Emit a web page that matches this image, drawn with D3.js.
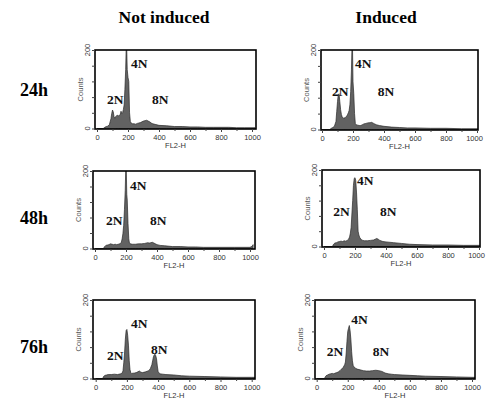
<!DOCTYPE html>
<html><head><meta charset="utf-8">
<script src="https://cdn.jsdelivr.net/npm/d3@7"></script>
<style>body{margin:0;background:#fff}svg{display:block}</style>
</head><body>
<svg id="c" width="487" height="407"></svg>
<script>
// ---- data (channel, counts) ----
const colTitles = ["Not induced", "Induced"];
const rowTitles = ["24h", "48h", "76h"];
const xTicks = [0, 200, 400, 600, 800, 1000];
const yTickLabels = [0, 200];
const peakLabels = ["2N", "4N", "8N"];

const h24NotInduced = [[0,0],[40,0],[50,3],[60,5],[70,6],[80,10],[90,25],[95,38],[100,47],[105,42],[110,30],[115,26],[120,30],[130,34],[140,32],[150,36],[155,44],[160,38],[165,40],[170,48],[175,60],[180,100],[185,150],[188,230],[192,230],[195,150],[200,130],[205,120],[210,40],[215,18],[220,14],[230,12],[240,12],[250,11],[260,13],[270,14],[280,15],[290,17],[300,19],[310,20],[320,21],[330,19],[340,17],[350,14],[360,12],[380,10],[400,8],[450,7],[500,5],[550,5],[600,4],[650,4],[700,3],[750,3],[800,3],[850,3],[900,2],[950,2],[1000,2],[1020,2]];
const h24Induced = [[0,0],[50,0],[60,3],[70,5],[80,8],[90,20],[95,45],[100,70],[105,88],[110,90],[115,70],[120,50],[125,38],[130,32],[140,28],[150,30],[160,34],[165,38],[170,42],[175,48],[180,62],[185,95],[190,150],[193,230],[197,230],[200,120],[205,90],[210,40],[215,15],[220,12],[230,11],[240,10],[250,10],[260,12],[270,14],[280,15],[290,16],[300,17],[310,17],[320,18],[330,16],[340,14],[350,12],[370,10],[400,8],[450,6],[500,5],[550,4],[600,4],[700,3],[800,3],[900,2],[1000,2],[1020,2]];
const h48NotInduced = [[0,0],[55,0],[60,4],[70,8],[80,9],[90,10],[100,12],[110,11],[120,10],[130,11],[140,10],[150,11],[160,12],[170,16],[175,25],[180,38],[185,60],[190,100],[195,150],[198,230],[202,230],[205,140],[208,125],[213,65],[218,25],[222,14],[230,12],[240,11],[260,11],[280,12],[300,12],[320,13],[340,15],[350,14],[360,15],[370,16],[380,14],[390,12],[400,10],[420,8],[450,7],[500,5],[550,5],[600,4],[650,4],[700,3],[800,3],[900,3],[1000,3],[1015,6],[1020,10]];
const h48Induced = [[0,0],[55,0],[60,5],[70,9],[80,10],[90,12],[100,13],[110,14],[120,13],[130,15],[140,14],[150,16],[160,20],[165,25],[170,35],[175,50],[180,85],[185,120],[190,160],[195,178],[200,180],[205,172],[210,140],[215,96],[220,40],[225,30],[230,24],[240,18],[250,16],[260,15],[280,15],[300,16],[320,17],[330,19],[340,21],[350,19],[360,16],[380,13],[400,12],[450,10],[500,8],[550,6],[600,5],[700,4],[800,4],[900,3],[1000,3],[1020,3]];
const h76NotInduced = [[0,0],[45,0],[50,5],[60,8],[70,9],[80,10],[100,10],[120,11],[140,10],[160,12],[170,14],[175,20],[180,40],[185,65],[190,100],[195,122],[200,125],[205,110],[210,85],[215,45],[220,22],[225,15],[230,13],[250,14],[260,15],[270,17],[280,19],[290,16],[300,15],[320,17],[340,20],[350,25],[360,35],[365,45],[370,55],[375,60],[380,62],[385,58],[390,50],[395,32],[400,18],[410,12],[430,11],[450,10],[500,9],[550,7],[600,6],[700,5],[800,4],[900,3],[1000,3],[1020,3]];
const h76Induced = [[0,0],[50,0],[55,4],[60,7],[70,9],[80,11],[90,12],[100,13],[110,12],[120,14],[130,15],[140,17],[150,20],[160,24],[170,28],[180,35],[185,42],[190,65],[195,95],[200,120],[205,128],[210,135],[215,122],[220,100],[225,68],[230,45],[235,33],[240,30],[250,26],[260,24],[280,22],[300,20],[320,19],[340,19],[360,20],[380,21],[400,20],[420,18],[440,14],[460,12],[480,11],[500,10],[550,9],[600,8],[650,7],[700,6],[800,5],[900,4],[1000,3],[1020,3]];

// label anchor points (channel, counts) for 2N/4N/8N
const lab24NI = [[65,74],[219,167],[355,74]];
const lab24I  = [[65,98],[213,168],[360,98]];
const lab48NI = [[71,74],[226,164],[355,74]];
const lab48I  = [[60,92],[213,173],[361,92]];
const lab76NI = [[72,60],[226,142],[355,75]];
const lab76I  = [[65,70],[222,152],[361,70]];

// ---- layout ----
const panels = [
  {d:h24NotInduced, l:lab24NI, fl:95, fr:256, ft:50, fb:129, x0:97, x1:252},
  {d:h24Induced,    l:lab24I,  fl:321, fr:478, ft:50, fb:130, x0:322, x1:477},
  {d:h48NotInduced, l:lab48NI, fl:93, fr:255, ft:171, fb:249, x0:95, x1:250},
  {d:h48Induced,    l:lab48I,  fl:322, fr:480, ft:170, fb:247, x0:324, x1:479},
  {d:h76NotInduced, l:lab76NI, fl:93, fr:255, ft:300, fb:379, x0:95.7, x1:251.7},
  {d:h76Induced,    l:lab76I,  fl:315, fr:475, ft:300, fb:379, x0:316.7, x1:472}
];

const svg = d3.select("#c");
const serif = "'Liberation Serif','Times New Roman',serif";
const sans = "'Liberation Sans',Arial,sans-serif";

svg.selectAll("text.col").data(colTitles).join("text")
  .attr("x",(d,i)=>[164,386][i]).attr("y",23).attr("text-anchor","middle")
  .attr("font-family",serif).attr("font-weight","bold").attr("font-size",17.5).text(d=>d);
svg.selectAll("text.row").data(rowTitles).join("text")
  .attr("x",20).attr("y",(d,i)=>[96,224,353][i])
  .attr("font-family",serif).attr("font-weight","bold").attr("font-size",18).text(d=>d);

panels.forEach(p=>{
  const g = svg.append("g");
  const x = d3.scaleLinear().domain([0,1000]).range([p.x0,p.x1]);
  const y = d3.scaleLinear().domain([0,200]).range([p.fb-0.5,p.ft]).clamp(true);
  const clipId = "clip"+Math.round(p.fl)+"_"+Math.round(p.ft);
  g.append("clipPath").attr("id",clipId).append("rect")
    .attr("x",p.fl).attr("y",p.ft).attr("width",p.fr-p.fl).attr("height",p.fb-p.ft);
  const area = d3.area().x(d=>x(d[0])).y0(y(0)).y1(d=>y(d[1])).curve(d3.curveLinear);
  g.append("path").datum(p.d).attr("clip-path",`url(#${clipId})`)
    .attr("d",area).attr("fill","#626262").attr("stroke","#2a2a2a").attr("stroke-width",0.7);
  // frame
  g.append("rect").attr("x",p.fl).attr("y",p.ft).attr("width",p.fr-p.fl).attr("height",p.fb-p.ft)
    .attr("fill","none").attr("stroke","#000").attr("stroke-width",1.6);
  // x axis
  const xa = d3.axisBottom(x).tickValues(xTicks).tickSize(3).tickSizeOuter(0).tickFormat(d3.format("d"));
  const gx = g.append("g").attr("transform",`translate(0,${p.fb})`).call(xa);
  gx.select(".domain").remove();
  gx.selectAll("text").attr("font-family",sans).attr("font-size",7.5).attr("fill","#333").attr("dy","0.6em")
    .attr("dx",d=>(d===1000 && p.fr>476) ? -3 : 0);
  gx.selectAll("line").attr("stroke","#444");
  const xm = d3.axisBottom(x).tickValues(d3.range(100,1000,200)).tickSize(2).tickFormat("");
  const gxm = g.append("g").attr("transform",`translate(0,${p.fb})`).call(xm);
  gxm.select(".domain").remove(); gxm.selectAll("line").attr("stroke","#444");
  g.append("text").attr("x",(p.fl+p.fr)/2).attr("y",p.fb+19).attr("text-anchor","middle")
    .attr("font-family",sans).attr("font-size",7.5).attr("fill","#333").text("FL2-H");
  // y axis
  const ya = d3.axisLeft(y).tickValues(d3.range(0,201,40)).tickSize(3).tickFormat("");
  const gy = g.append("g").attr("transform",`translate(${p.fl},0)`).call(ya);
  gy.select(".domain").remove(); gy.selectAll("line").attr("stroke","#444");
  g.selectAll("text.yl").data(yTickLabels).join("text")
    .attr("transform",d=>`translate(${p.fl-5},${y(d)}) rotate(-90)`)
    .attr("text-anchor","middle").attr("font-family",sans).attr("font-size",7.5).attr("fill","#333").text(d=>d);
  g.append("text").attr("transform",`translate(${p.fl-12},${(p.ft+p.fb)/2}) rotate(-90)`)
    .attr("text-anchor","middle").attr("font-family",sans).attr("font-size",7.5).attr("fill","#555").text("Counts");
  // peak labels
  g.selectAll("text.pk").data(p.l).join("text")
    .attr("x",d=>x(d[0])).attr("y",d=>y(d[1])+5)
    .attr("font-family",serif).attr("font-weight","bold").attr("font-size",13.5).attr("fill","#111")
    .text((d,i)=>peakLabels[i]);
});
</script>
</body></html>
